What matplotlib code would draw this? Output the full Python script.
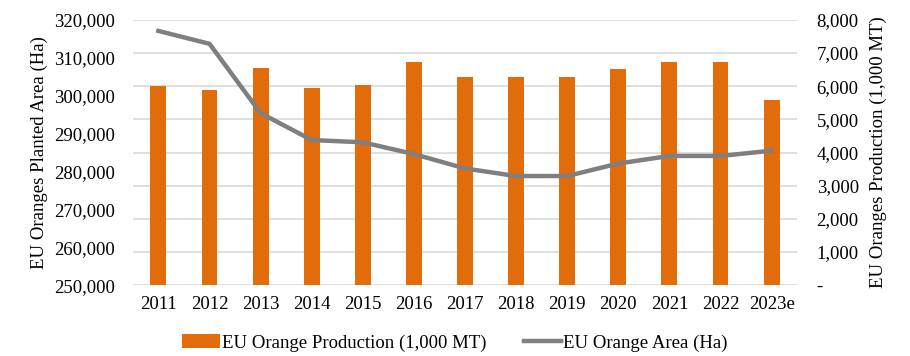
import matplotlib.pyplot as plt
from matplotlib.ticker import FuncFormatter

years = ['2011', '2012', '2013', '2014', '2015', '2016', '2017', '2018',
         '2019', '2020', '2021', '2022', '2023e']
production = [6020, 5890, 6555, 5960, 6040, 6745, 6275, 6275, 6275, 6535,
              6740, 6740, 5570]  # 1,000 MT
area = [317100, 313700, 295400, 288300, 287700, 284600, 280800, 278800,
        278800, 282100, 284100, 284100, 285500]  # Ha

plt.rcParams['font.family'] = ['Liberation Serif', 'DejaVu Serif']

fig = plt.figure(figsize=(9.1, 3.56), dpi=100)
ax = fig.add_axes([0.146, 0.199, 0.73, 0.745])
ax2 = ax.twinx()

x = range(len(years))

# bars on the right axis, line on the left axis
ax2.bar(x, production, width=0.31, color='#E36C0A', zorder=2,
        label='EU Orange Production (1,000 MT)')
ax.plot(x, area, color='#7F7F7F', lw=3.2, zorder=3,
        label='EU Orange Area (Ha)')

# line axis above bar axis
ax.set_zorder(ax2.get_zorder() + 1)
ax.patch.set_visible(False)

ax.set_ylim(250000, 320000)
ax.set_yticks(range(250000, 320001, 10000))
ax.yaxis.set_major_formatter(FuncFormatter(lambda v, p: f'{int(v):,}'))
ax2.set_ylim(0, 8000)
ax2.set_yticks(range(0, 8001, 1000))
ax2.yaxis.set_major_formatter(
    FuncFormatter(lambda v, p: '-' if v == 0 else f'{int(v):,}'))

ax.set_xlim(-0.5, len(years) - 0.5)
ax.set_xticks(list(x))
ax.set_xticklabels(years)

for a in (ax, ax2):
    for s in a.spines.values():
        s.set_visible(False)
    a.tick_params(length=0, labelsize=13.5)
ax.tick_params(axis='y', pad=13)
ax2.tick_params(axis='y', pad=14)
ax.tick_params(axis='x', pad=8)

# gridlines drawn on the bar axis so they sit behind the bars
for v in range(0, 8001, 1000):
    ax2.axhline(v, color='#D9D9D9', lw=1.2, zorder=0)

ax.set_ylabel('EU Oranges Planted Area (Ha)', fontsize=13.5, labelpad=4)
ax2.set_ylabel('EU Oranges Production (1,000 MT)', fontsize=13.5, labelpad=8)

h1, l1 = ax2.get_legend_handles_labels()
h2, l2 = ax.get_legend_handles_labels()
fig.legend(h1 + h2, l1 + l2, loc='lower center', ncol=2, frameon=False,
           fontsize=13.5, bbox_to_anchor=(0.5, -0.035), handlelength=2.0,
           columnspacing=2.0, handletextpad=0.1)

fig.savefig('out.png', dpi=100)
